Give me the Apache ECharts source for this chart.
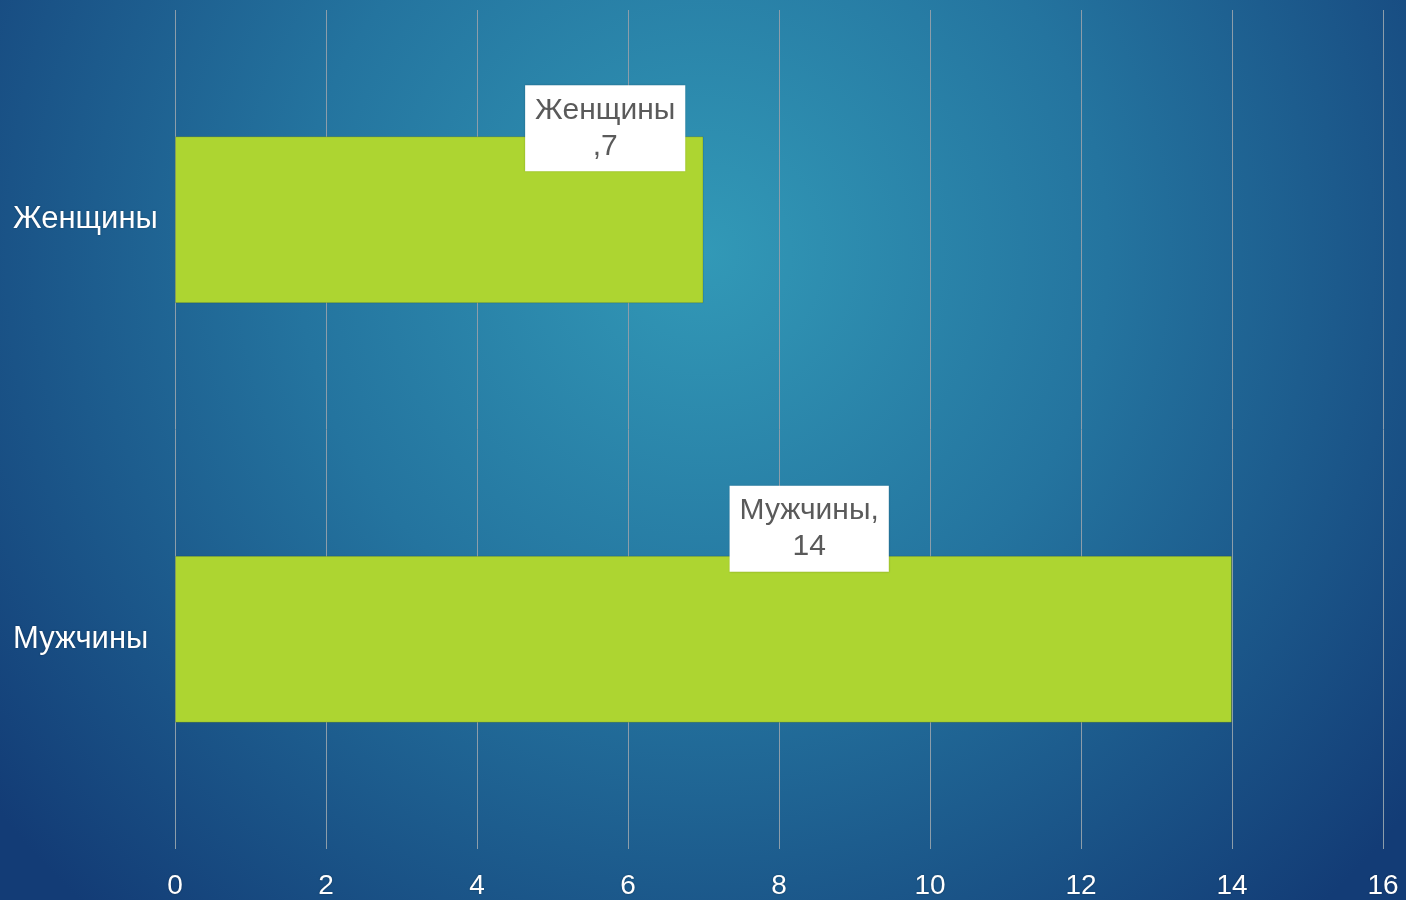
<!DOCTYPE html>
<html>
<head>
<meta charset="utf-8">
<script src="https://cdn.jsdelivr.net/npm/echarts@6/dist/echarts.min.js"></script>
<style>
html,body{margin:0;padding:0;width:1406px;height:900px;overflow:hidden;}
#chart{width:1406px;height:900px;}
</style>
</head>
<body>
<div id="chart"></div>
<script>
const categories = ['Мужчины', 'Женщины'];
const values = [14, 7];
const labelTexts = ['Мужчины,\n14', 'Женщины\n,7'];
const labelPositions = [['60%', -27], ['81.4%', -8]];

const chart = echarts.init(document.getElementById('chart'));
chart.setOption({
  backgroundColor: {
    type: 'radial', x: 0.5, y: 0.28, r: 1,
    colorStops: [
      {offset: 0, color: '#3299b7'},
      {offset: 0.45, color: '#24749f'},
      {offset: 1, color: '#133c76'}
    ]
  },
  animation: false,
  grid: {left: 175, right: 23, top: 10, bottom: 50},
  xAxis: {
    type: 'value', min: 0, max: 16, interval: 2,
    axisLine: {show: false}, axisTick: {show: false},
    splitLine: {lineStyle: {color: '#8c9daa', width: 1}},
    axisLabel: {color: '#ffffff', fontSize: 28, fontFamily: 'Liberation Sans, Arial', margin: 23,
      textShadowColor: 'rgba(0,0,0,0.35)', textShadowBlur: 2}
  },
  yAxis: {
    type: 'category', data: categories,
    axisLine: {show: false}, axisTick: {show: false},
    splitLine: {show: false},
    axisLabel: {color: '#ffffff', fontSize: 31, fontFamily: 'Liberation Sans, Arial', align: 'left', margin: 162,
      padding: [4, 0, 0, 0],
      textShadowColor: 'rgba(0,0,0,0.35)', textShadowBlur: 2}
  },
  series: [{
    type: 'bar',
    barWidth: 167,
    itemStyle: {color: '#add531', borderColor: 'rgba(0,0,0,0.15)', borderWidth: 1},
    data: values.map((v, i) => ({
      value: v,
      label: {
        show: true,
        formatter: labelTexts[i],
        position: labelPositions[i],
        align: 'center', verticalAlign: 'middle',
        color: '#5a5a5a', fontSize: 30, lineHeight: 36,
        fontFamily: 'Liberation Sans, Arial',
        backgroundColor: '#ffffff',
        padding: [10, 10, 4, 10],
        shadowColor: 'rgba(0,0,0,0.2)', shadowBlur: 2
      }
    }))
  }]
});
</script>
</body>
</html>
